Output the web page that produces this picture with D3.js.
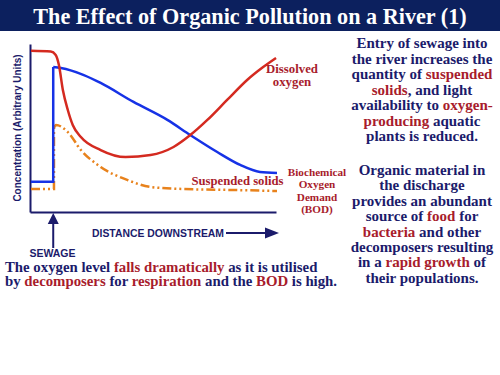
<!DOCTYPE html>
<html>
<head>
<meta charset="utf-8">
<script src="https://cdn.jsdelivr.net/npm/d3@7"></script>
<style>
  body { margin: 0; background: #fff; }
  svg { display: block; }
</style>
</head>
<body>
<div class="chart"></div>
<script>
// distance downstream (0-100) and concentrations (arbitrary units, 0-100)
var sewageAt = 9;

var oxygenDist = [0, 8, 10, 11.3, 12.9, 14.9, 16.9, 20.2, 28.2, 38.3, 48.4, 57.7, 64.5, 71.4, 79.4, 87.5, 94, 99.2];
var oxygenConc = [96, 95.5, 93.5, 87.5, 72.6, 60.7, 51.8, 44.6, 36.9, 32.7, 33.9, 38.7, 45.8, 54.8, 66.7, 78.6, 86.3, 91.7];

var bodBefore = 18;
var bodDist = [9, 12.1, 21.4, 28.2, 41.5, 55.2, 64.5, 75.4, 84.7, 92.7, 99.6];
var bodConc = [86.3, 85.7, 81.5, 76.8, 65.5, 54.8, 45.8, 35.7, 28, 23.8, 23.2];

var solidsBefore = 13.7;
var solidsDist = [9.3, 10.1, 14.9, 20.2, 28.2, 39.1, 48.4, 61.7, 81.9, 99.6];
var solidsConc = [50, 51.8, 47.6, 36.9, 26.8, 19, 14.9, 13.7, 13.1, 12.5];

// text blocks, {..} = red words
var titleText = "The Effect of Organic Pollution on a River (1)";
var para1 = ["Entry of sewage into", "the river increases the", "quantity of {suspended}",
  "{solids}, and light", "availability to {oxygen-}", "{producing} aquatic", "plants is reduced."];
var para2 = ["Organic material in", "the discharge", "provides an abundant", "source of {food} for",
  "{bacteria} and other", "decomposers resulting", "in a {rapid growth} of", "their populations."];
var bottomText = ["The oxygen level {falls dramatically} as it is utilised",
  "by {decomposers} for {respiration} and the {BOD} is high."];

var navy = "#1b1b6b", red = "#a81c2c";
var serif = "Liberation Serif";
var sans = "Liberation Sans";

const svg = d3.select(".chart").append("svg")
  .attr("width", 500)
  .attr("height", 375);

// title bar
svg.append("rect").attr("x", 0).attr("y", 0).attr("width", 500).attr("height", 31).attr("fill", "#0c205e");
svg.append("text")
  .attr("font-family", serif).attr("font-weight", "bold")
  .attr("x", 250).attr("y", 23.5)
  .attr("text-anchor", "middle")
  .attr("fill", "#fff")
  .attr("font-size", 22.2)
  .text(titleText);

var x = d3.scaleLinear().domain([0, 100]).range([31, 278]);
var y = d3.scaleLinear().domain([0, 100]).range([212, 44]);

// axes (no ticks, just the lines)
svg.append("g")
  .attr("transform", "translate(30,0)")
  .call(d3.axisLeft(y).tickValues([]).tickSizeOuter(0))
  .select(".domain").attr("stroke", navy).attr("stroke-width", 2);
svg.append("g")
  .attr("transform", "translate(0,212)")
  .call(d3.axisBottom(x.copy().range([30, 276])).tickValues([]).tickSizeOuter(0))
  .select(".domain").attr("stroke", navy).attr("stroke-width", 2);

svg.append("text")
  .attr("font-family", sans).attr("font-weight", "bold")
  .attr("transform", "translate(21,128) rotate(-90)")
  .attr("text-anchor", "middle")
  .attr("fill", navy)
  .attr("font-size", 10)
  .text("Concentration (Arbitrary Units)");

function pts(xs, ys) { return xs.map(function(d, i) { return [d, ys[i]]; }); }

var curve = d3.line()
  .x(function(d) { return x(d[0]); })
  .y(function(d) { return y(d[1]); })
  .curve(d3.curveMonotoneX);
var straight = d3.line()
  .x(function(d) { return x(d[0]); })
  .y(function(d) { return y(d[1]); });

// suspended solids
var solidsDash = "9,3,2,3,2,3";
svg.append("path")
  .attr("fill", "none").attr("stroke", "#e8821c").attr("stroke-width", 2.5)
  .attr("stroke-dasharray", solidsDash)
  .attr("d", straight([[0, solidsBefore], [solidsDist[0], solidsBefore], [solidsDist[0], solidsConc[0]]]));
svg.append("path")
  .attr("fill", "none").attr("stroke", "#e8821c").attr("stroke-width", 2.5)
  .attr("stroke-dasharray", solidsDash)
  .attr("d", curve(pts(solidsDist, solidsConc)));

// BOD
svg.append("path")
  .attr("fill", "none").attr("stroke", "#1632e6").attr("stroke-width", 2.5)
  .attr("d", straight([[0, bodBefore], [bodDist[0], bodBefore], [bodDist[0], bodConc[0]]]));
svg.append("path")
  .attr("fill", "none").attr("stroke", "#1632e6").attr("stroke-width", 2.5)
  .attr("d", curve(pts(bodDist, bodConc)));

// dissolved oxygen
svg.append("path")
  .attr("fill", "none").attr("stroke", "#d42a20").attr("stroke-width", 2.5)
  .attr("d", curve(pts(oxygenDist, oxygenConc)));

// series labels
function label(lines, cx, y0, step, size) {
  lines.forEach(function(l, i) {
    svg.append("text")
      .attr("font-family", serif).attr("font-weight", "bold")
      .attr("text-anchor", "middle")
      .attr("fill", red)
      .attr("font-size", size)
      .attr("x", cx).attr("y", y0 + i * step)
      .text(l);
  });
}
label(["Dissolved", "oxygen"], 292, 73, 12.8, 12.8);
label(["Suspended solids"], 237.5, 185, 12, 12.7);
label(["Biochemical", "Oxygen", "Demand", "(BOD)"], 317, 176, 12.3, 11.2);

// sewage arrow
var sx = x(sewageAt);
svg.append("line").attr("x1", sx).attr("x2", sx).attr("y1", 248).attr("y2", 220)
  .attr("stroke", navy).attr("stroke-width", 2);
svg.append("path").attr("fill", navy)
  .attr("d", "M" + sx + ",213 L" + (sx - 5.5) + ",224 L" + (sx + 5.5) + ",224 Z");
svg.append("text").attr("font-family", sans).attr("font-weight", "bold")
  .attr("x", 52.5).attr("y", 257).attr("text-anchor", "middle")
  .attr("fill", navy).attr("font-size", 10.5).text("SEWAGE");

// distance arrow
svg.append("text").attr("font-family", sans).attr("font-weight", "bold")
  .attr("x", 92).attr("y", 237)
  .attr("fill", navy).attr("font-size", 10.4).text("DISTANCE DOWNSTREAM");
svg.append("line").attr("x1", 226).attr("x2", 268).attr("y1", 233).attr("y2", 233)
  .attr("stroke", navy).attr("stroke-width", 2);
svg.append("path").attr("fill", navy).attr("d", "M279,233 L265,227.5 L265,238.5 Z");

// rich text with red highlights
function richLines(lines, xx, y0, step, anchor, size) {
  lines.forEach(function(l, i) {
    var row = svg.append("text")
      .attr("font-family", serif).attr("font-weight", "bold")
      .attr("text-anchor", anchor)
      .attr("fill", navy)
      .attr("font-size", size)
      .attr("x", xx).attr("y", y0 + i * step);
    l.split(/(\{[^}]*\})/).forEach(function(part) {
      if (!part) return;
      if (part[0] === "{") row.append("tspan").attr("fill", red).text(part.slice(1, -1));
      else row.append("tspan").text(part);
    });
  });
}
richLines(para1, 422, 48, 15.5, "middle", 15);
richLines(para2, 422, 175, 15.4, "middle", 15);
richLines(bottomText, 5, 271.5, 14.8, "start", 14.8);
</script>
</body>
</html>
